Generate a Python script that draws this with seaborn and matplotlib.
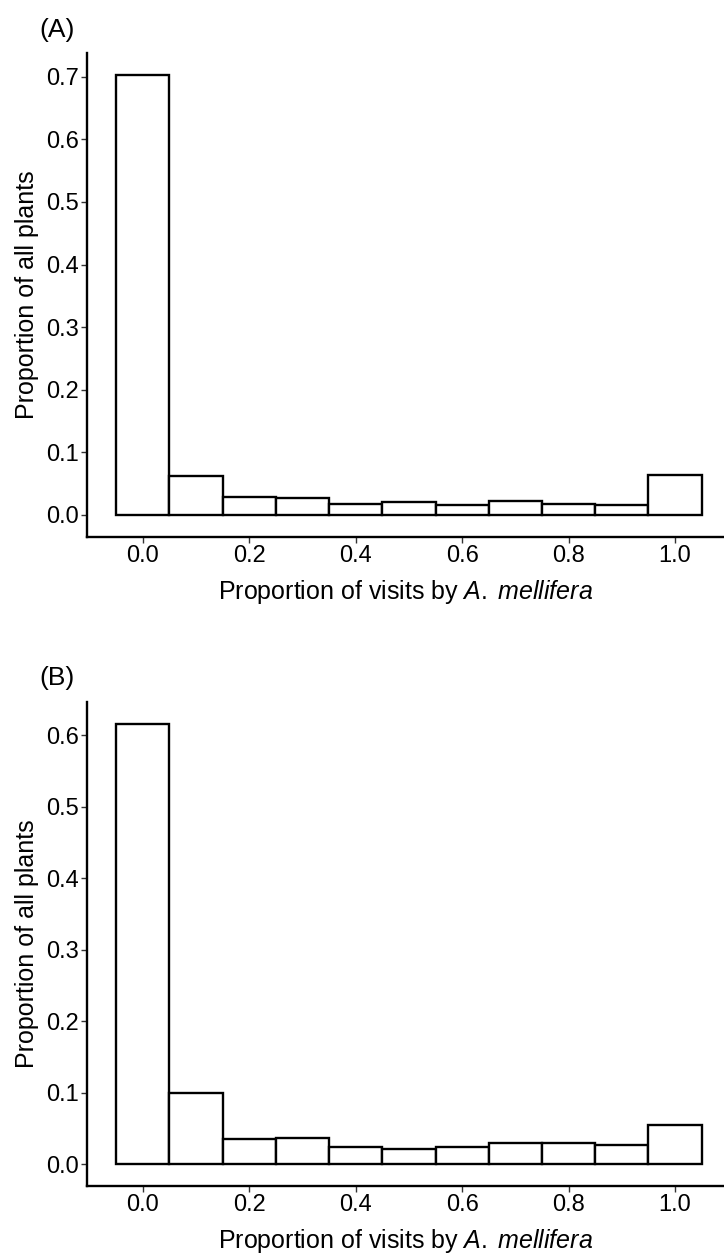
import matplotlib
matplotlib.use("Agg")
import matplotlib.pyplot as plt
import numpy as np
import seaborn as sns

# proportion of visits by A. mellifera (bin centres)
bin_centers = [0.0, 0.1, 0.2, 0.3, 0.4, 0.5, 0.6, 0.7, 0.8, 0.9, 1.0]

# proportion of all plants in each bin
props_a = [0.703, 0.062, 0.029, 0.027, 0.018, 0.020, 0.016, 0.023, 0.018, 0.016, 0.064]
props_b = [0.616, 0.100, 0.035, 0.037, 0.024, 0.021, 0.024, 0.030, 0.030, 0.026, 0.055]

x_ticks = [0.0, 0.2, 0.4, 0.6, 0.8, 1.0]
y_ticks_a = [0.0, 0.1, 0.2, 0.3, 0.4, 0.5, 0.6, 0.7]
y_ticks_b = [0.0, 0.1, 0.2, 0.3, 0.4, 0.5, 0.6]

sns.set_style("ticks")
plt.rcParams["font.family"] = ["Liberation Sans", "DejaVu Sans"]
plt.rcParams["mathtext.fontset"] = "custom"
plt.rcParams["mathtext.rm"] = "Liberation Sans"
plt.rcParams["mathtext.it"] = "Liberation Sans:italic"
plt.rcParams["text.color"] = "black"
plt.rcParams["axes.labelcolor"] = "black"
plt.rcParams["xtick.labelcolor"] = "black"
plt.rcParams["ytick.labelcolor"] = "black"

fig = plt.figure(figsize=(7.24, 12.54), dpi=100)
ax_a = fig.add_axes([0.120, 0.5718, 0.880, 0.386])
ax_b = fig.add_axes([0.120, 0.0542, 0.880, 0.386])


def draw_panel(ax, props, yticks, tag, tag_y):
    sns.histplot(
        x=bin_centers,
        weights=props,
        binwidth=0.1,
        binrange=(-0.05, 1.05),
        color="white",
        edgecolor="black",
        linewidth=1.7,
        alpha=1,
        ax=ax,
    )
    top = max(props)
    pad = top * 0.05
    ax.set_ylim(-pad, top + pad)
    ax.set_xlim(-0.105, 1.092)
    ax.set_xticks(x_ticks)
    ax.set_xticklabels([f"{t:.1f}" for t in x_ticks])
    ax.set_yticks(yticks)
    ax.set_yticklabels([f"{t:.1f}" for t in yticks])
    ax.tick_params(labelsize=17, length=4, width=1, color="#333333", pad=2)
    for s in ["top", "right"]:
        ax.spines[s].set_visible(False)
    for s in ["left", "bottom"]:
        ax.spines[s].set_linewidth(1.7)
        ax.spines[s].set_color("black")
    ax.set_ylabel("Proportion of all plants", fontsize=18, labelpad=5)
    ax.set_xlabel("Proportion of visits by $\\it{A.\\;mellifera}$", fontsize=18, labelpad=8)
    fig.text(0.054, tag_y, tag, fontsize=19, va="center", ha="left")


draw_panel(ax_a, props_a, y_ticks_a, "(A)", 1 - 30 / 1254)
draw_panel(ax_b, props_b, y_ticks_b, "(B)", 1 - 678 / 1254)

fig.savefig("out.png", dpi=100)
